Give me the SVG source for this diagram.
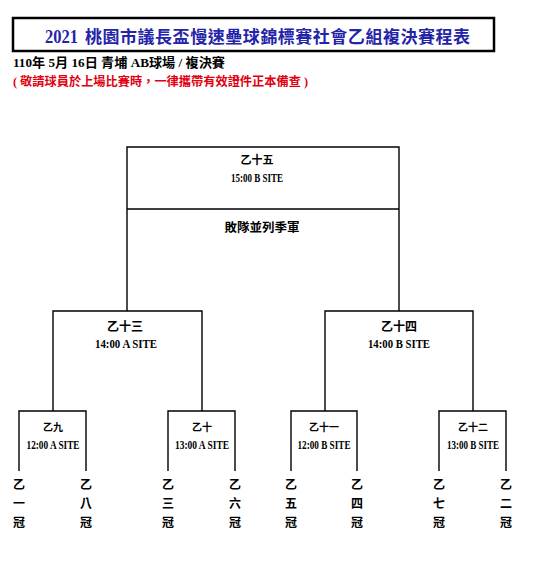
<svg xmlns="http://www.w3.org/2000/svg" width="535" height="567" viewBox="0 0 535 567">
<style>
  .ln { fill: none; stroke: #000; stroke-width: 1.4; }
  .t { font-family: "Liberation Serif", "Noto Sans CJK TC", serif; font-weight: bold; fill: #000; text-anchor: middle; }
  .cj { font-family: "Noto Sans CJK TC", "Liberation Serif", sans-serif; font-weight: bold; fill: #000; text-anchor: middle; }
  .lab { font-family: "Noto Sans CJK TC", sans-serif; font-weight: bold; font-size: 12px; fill: #000; text-anchor: middle; }
</style>
<rect width="535" height="567" fill="#fff"/>
<g id="header">
  <rect x="13" y="18" width="481" height="33" fill="#fff" stroke="#000" stroke-width="2.5"/>
  <text x="45" y="43" font-family="Liberation Serif, serif" font-weight="bold" font-size="18" fill="#2424a8" textLength="33" lengthAdjust="spacingAndGlyphs">2021</text>
  <text x="85" y="43" font-family="Noto Sans CJK TC, sans-serif" font-weight="bold" font-size="17" fill="#2424a8" textLength="385" lengthAdjust="spacing">桃園市議長盃慢速壘球錦標賽社會乙組複決賽程表</text>
  <text x="13" y="67" font-family="Liberation Serif, Noto Sans CJK TC, serif" font-weight="bold" font-size="13" fill="#000" textLength="212" lengthAdjust="spacingAndGlyphs">110年 5月 16日 青埔 AB球場 / 複決賽</text>
  <text x="13" y="86" font-family="Liberation Serif, Noto Sans CJK TC, serif" font-weight="bold" font-size="12" fill="#e00010" textLength="295" lengthAdjust="spacingAndGlyphs">( 敬請球員於上場比賽時，一律攜帶有效證件正本備查 )</text>
</g>
<g id="connectors">
  <path class="ln" d="M127,311 V147 H399 V311 M127,209 H399"/>
  <path class="ln" d="M53,411 V311 H202 V411"/>
  <path class="ln" d="M325,411 V311 H473 V411"/>
  <path class="ln" d="M19,471 V411 H86 V471"/>
  <path class="ln" d="M168,471 V411 H235 V471"/>
  <path class="ln" d="M291,471 V411 H357 V471"/>
  <path class="ln" d="M439,471 V411 H506 V471"/>
</g>
<g id="m15">
  <text class="cj" x="257" y="163.5" font-size="11">乙十五</text>
  <text class="t" x="257" y="181.5" font-size="13" textLength="52" lengthAdjust="spacingAndGlyphs">15:00 B SITE</text>
  <text class="cj" x="262" y="232" font-size="12.5">敗隊並列季軍</text>
</g>
<g id="m13">
  <text class="cj" x="125" y="330.5" font-size="12">乙十三</text>
  <text class="t" x="126" y="348" font-size="13" textLength="62" lengthAdjust="spacingAndGlyphs">14:00 A SITE</text>
</g>
<g id="m14">
  <text class="cj" x="399" y="330.5" font-size="12">乙十四</text>
  <text class="t" x="399" y="348" font-size="13" textLength="62" lengthAdjust="spacingAndGlyphs">14:00 B SITE</text>
</g>
<g id="m9">
  <text class="cj" x="53" y="431" font-size="10">乙九</text>
  <text class="t" x="53" y="449" font-size="11.5" textLength="53" lengthAdjust="spacingAndGlyphs">12:00 A SITE</text>
</g>
<g id="m10">
  <text class="cj" x="202" y="431" font-size="10">乙十</text>
  <text class="t" x="202" y="449" font-size="11.5" textLength="54" lengthAdjust="spacingAndGlyphs">13:00 A SITE</text>
</g>
<g id="m11">
  <text class="cj" x="324" y="431" font-size="10">乙十一</text>
  <text class="t" x="324" y="449" font-size="11.5" textLength="53" lengthAdjust="spacingAndGlyphs">12:00 B SITE</text>
</g>
<g id="m12">
  <text class="cj" x="473" y="431" font-size="10">乙十二</text>
  <text class="t" x="473" y="449" font-size="11.5" textLength="52" lengthAdjust="spacingAndGlyphs">13:00 B SITE</text>
</g>
<g id="t1"><text class="lab" x="19" y="489">乙</text><text class="lab" x="19" y="508">一</text><text class="lab" x="19" y="527">冠</text></g>
<g id="t8"><text class="lab" x="86" y="489">乙</text><text class="lab" x="86" y="508">八</text><text class="lab" x="86" y="527">冠</text></g>
<g id="t3"><text class="lab" x="168" y="489">乙</text><text class="lab" x="168" y="508">三</text><text class="lab" x="168" y="527">冠</text></g>
<g id="t6"><text class="lab" x="235" y="489">乙</text><text class="lab" x="235" y="508">六</text><text class="lab" x="235" y="527">冠</text></g>
<g id="t5"><text class="lab" x="291" y="489">乙</text><text class="lab" x="291" y="508">五</text><text class="lab" x="291" y="527">冠</text></g>
<g id="t4"><text class="lab" x="357" y="489">乙</text><text class="lab" x="357" y="508">四</text><text class="lab" x="357" y="527">冠</text></g>
<g id="t7"><text class="lab" x="439" y="489">乙</text><text class="lab" x="439" y="508">七</text><text class="lab" x="439" y="527">冠</text></g>
<g id="t2"><text class="lab" x="506" y="489">乙</text><text class="lab" x="506" y="508">二</text><text class="lab" x="506" y="527">冠</text></g>
</svg>
